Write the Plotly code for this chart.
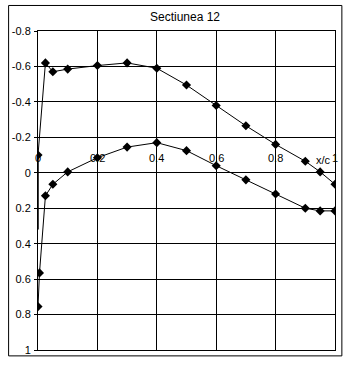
import plotly.graph_objects as go

# Upper surface (suction side)
x_upper = [0.0, 0.025, 0.05, 0.1, 0.2, 0.3, 0.4, 0.5, 0.6, 0.7, 0.8, 0.9, 0.95, 1.0]
cp_upper = [-0.10, -0.62, -0.57, -0.585, -0.605, -0.62, -0.59, -0.495, -0.38, -0.265, -0.16, -0.065, -0.005, 0.065]

# Leading-edge line segment drawn without markers
x_le = [0.0, 0.0]
cp_le = [-0.10, 0.32]

# Lower surface (pressure side)
x_lower = [0.0, 0.005, 0.025, 0.05, 0.1, 0.2, 0.3, 0.4, 0.5, 0.6, 0.7, 0.8, 0.9, 0.95, 1.0]
cp_lower = [0.755, 0.565, 0.13, 0.065, -0.005, -0.085, -0.145, -0.17, -0.125, -0.04, 0.04, 0.12, 0.20, 0.215, 0.215]

x_ticks = [0, 0.2, 0.4, 0.6, 0.8, 1.0]
x_tick_labels = ["0", "0.2", "0.4", "0.6", "0.8", "1"]
y_ticks = [-0.8, -0.6, -0.4, -0.2, 0, 0.2, 0.4, 0.6, 0.8, 1.0]
y_tick_labels = ["-0.8", "-0.6", "-0.4", "-0.2", "0", "0.2", "0.4", "0.6", "0.8", "1"]

title_text = "Sectiunea 12"
x_title = "x/c"
y_title = "Cp"

FONT = "Liberation Sans, Arial, sans-serif"

fig = go.Figure()
fig.add_trace(go.Scatter(
    x=x_le, y=cp_le, mode="lines",
    line=dict(color="black", width=1.5),
    showlegend=False, hoverinfo="skip"))
fig.add_trace(go.Scatter(
    x=x_upper, y=cp_upper, mode="lines+markers",
    line=dict(color="black", width=1),
    marker=dict(symbol="diamond", size=7, color="black"),
    showlegend=False, hoverinfo="skip"))
fig.add_trace(go.Scatter(
    x=x_lower, y=cp_lower, mode="lines+markers",
    line=dict(color="black", width=1),
    marker=dict(symbol="diamond", size=7, color="black"),
    showlegend=False, hoverinfo="skip"))

# x tick labels sitting above the zero line (Excel style axis crossing)
for xv, lab in zip(x_ticks, x_tick_labels):
    fig.add_annotation(x=xv, y=0, xref="x", yref="y", text=lab, showarrow=False,
                       yshift=15, font=dict(family=FONT, size=11, color="black"))
fig.add_annotation(x=0.96, y=0, xref="x", yref="y", text=x_title, showarrow=False,
                   yshift=13, font=dict(family=FONT, size=11, color="black"))
fig.add_annotation(x=-0.066, y=-0.7, xref="x", yref="y", text=y_title, showarrow=False,
                   font=dict(family=FONT, size=11, color="black"))

# outer chart border
fig.add_shape(type="rect", xref="paper", yref="paper",
              x0=(2 - 32) / 303, x1=(342 - 32) / 303,
              y0=(356 - 362) / 325, y1=(356 - 5) / 325,
              line=dict(color="black", width=1), fillcolor="rgba(0,0,0,0)", layer="below")

fig.update_layout(
    width=348, height=368,
    margin=dict(l=32, r=13, t=31, b=12),
    paper_bgcolor="white", plot_bgcolor="white",
    font=dict(family=FONT, size=11, color="black"),
    title=dict(text=title_text, x=(182 - 32) / 303, xref="paper", xanchor="center",
               y=1 - 17 / 368, yanchor="middle",
               font=dict(family=FONT, size=12, color="black")),
)
fig.update_xaxes(range=[0, 1], tickvals=x_ticks, showticklabels=False,
                 showgrid=True, gridcolor="black", gridwidth=1,
                 zeroline=False, showline=True, linecolor="black", linewidth=1, mirror=True,
                 ticks="")
fig.update_yaxes(range=[1, -0.8], tickvals=y_ticks, ticktext=y_tick_labels,
                 showgrid=True, gridcolor="black", gridwidth=1,
                 zeroline=False, showline=True, linecolor="black", linewidth=1, mirror=True,
                 ticks="outside", ticklen=3, tickcolor="black", ticklabelstandoff=1,
                 tickfont=dict(family=FONT, size=11, color="black"))

fig.write_html("out.html")
